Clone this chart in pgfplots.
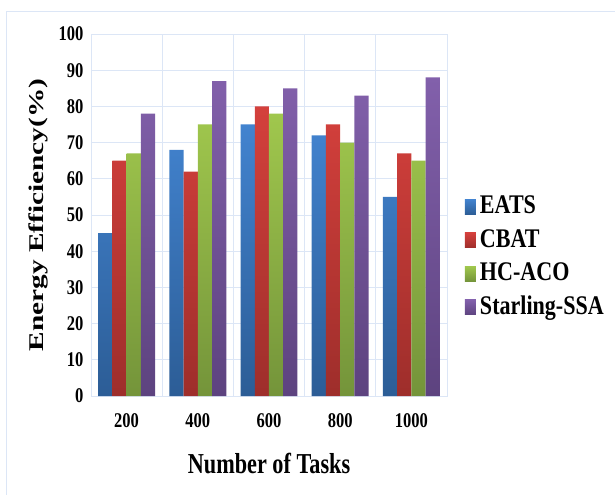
\documentclass[border=0pt]{standalone}
\usepackage{fontspec}
\setmainfont{Liberation Serif}
\newfontfamily\tickf{Liberation Serif}[FakeStretch=0.79]
\newfontfamily\ylabf{Liberation Serif}[FakeStretch=1.4]
\newfontfamily\xlabf{Liberation Serif}[FakeStretch=0.77]
\newfontfamily\legf{Liberation Serif}[FakeStretch=0.82]
\usepackage{pgfplots}
\pgfplotsset{compat=1.18}
\definecolor{gridc}{HTML}{DCE6F6}
\definecolor{blueT}{HTML}{4283CF}\definecolor{blueB}{HTML}{2C5D96}
\definecolor{redT}{HTML}{D4403C}\definecolor{redB}{HTML}{9E2E2B}
\definecolor{greenT}{HTML}{A0C74D}\definecolor{greenB}{HTML}{74943A}
\definecolor{purpT}{HTML}{8260AB}\definecolor{purpB}{HTML}{5D437F}
\begin{document}
\begin{tikzpicture}
\useasboundingbox (-91bp,-99bp) rectangle (524bp,396bp);
\draw[gridc, line width=0.8bp] (-85bp,-110bp) rectangle (535bp,385bp);
\begin{axis}[
  at={(0,0)}, anchor=south west,
  scale only axis, width=356bp, height=362bp,
  /pgf/number format/assume math mode=true,
  ybar=0pt, bar width=0.2,
  xmin=-0.5, xmax=4.5, ymin=0, ymax=100,
  xtick={0,1,2,3,4}, xticklabels={200,400,600,800,1000},
  minor xtick={-0.5,0.5,1.5,2.5,3.5,4.5},
  ytick={0,10,...,100},
  major tick length=0pt, minor tick length=0pt,
  ymajorgrids, xminorgrids,
  grid style={gridc, line width=0.9bp},
  axis line style={gridc, line width=0.9bp},
  yticklabel style={font=\tickf\bfseries\fontsize{21}{21}\selectfont, xshift=-4bp},
  xticklabel style={font=\tickf\bfseries\fontsize{21}{21}\selectfont, yshift=-14bp},
  ylabel={Energy Efficiency(\%)},
  ylabel style={font=\ylabf\bfseries\fontsize{21}{21}\selectfont, at={(axis description cs:-0.149,0.5)}, anchor=center, rotate=0},
  xlabel={Number of Tasks},
  xlabel style={font=\xlabf\bfseries\fontsize{29}{29}\selectfont, at={(axis description cs:0.5,-0.2127)}, anchor=base},
  legend style={at={(axis description cs:1.05,0.565)}, anchor=north west, draw=none, fill=none, inner sep=0pt,
    font=\legf\bfseries\fontsize{27}{27}\selectfont,
    nodes={inner sep=0pt, text height=22bp, text depth=11.5bp}, column sep=4bp},
  legend cell align=left,
  legend image code/.code={\fill[#1] (0bp,-6bp) rectangle (11bp,9bp);},
]
\addplot[draw=none, top color=blueT, bottom color=blueB] coordinates {(0,45) (1,68) (2,75) (3,72) (4,55)};
\addplot[draw=none, top color=redT, bottom color=redB] coordinates {(0,65) (1,62) (2,80) (3,75) (4,67)};
\addplot[draw=none, top color=greenT, bottom color=greenB] coordinates {(0,67) (1,75) (2,78) (3,70) (4,65)};
\addplot[draw=none, top color=purpT, bottom color=purpB] coordinates {(0,78) (1,87) (2,85) (3,83) (4,88)};
\legend{EATS,CBAT,HC-ACO,Starling-SSA}
\end{axis}
\end{tikzpicture}
\end{document}
